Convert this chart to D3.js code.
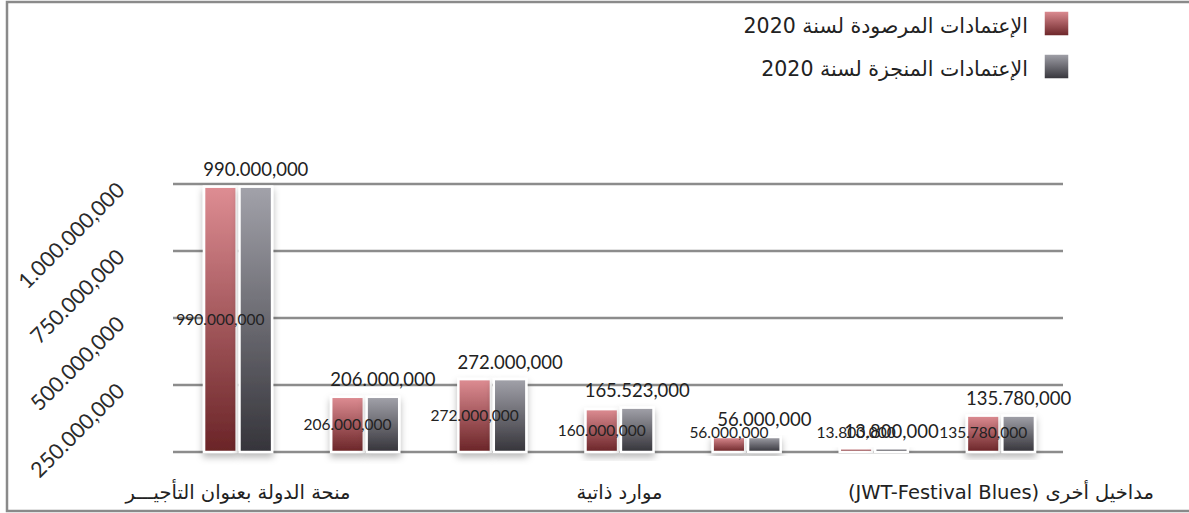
<!DOCTYPE html>
<html lang="ar">
<head>
<meta charset="utf-8">
<script src="https://cdn.jsdelivr.net/npm/d3@7"></script>
<style>
  html, body { margin: 0; padding: 0; background: #ffffff; }
  svg { display: block; }
</style>
</head>
<body>
<svg id="chart" width="1189" height="513"></svg>
<script>
// Category names (only every third one is shown on the axis)
const categoryLabels = [
  "منحة الدولة بعنوان التأجيـــر", "", "",
  "موارد ذاتية", "", "",
  "مداخيل أخرى (JWT-Festival Blues)"
];
// Planned credits for 2020
const plannedValues = [990000000, 206000000, 272000000, 160000000, 56000000, 13800000, 135780000];
// Achieved credits for 2020
const achievedValues = [990000000, 206000000, 272000000, 165523000, 56000000, 13800000, 135780000];
// Series names
const seriesNames = ["الإعتمادات المرصودة لسنة 2020", "الإعتمادات المنجزة لسنة 2020"];
// Value axis ticks
const yTicks = [250000000, 500000000, 750000000, 1000000000];

const W = 1189, H = 513;
const svg = d3.select("#chart");
const defs = svg.append("defs");

// gradients for the two series
function vGrad(id, top, bottom) {
  const g = defs.append("linearGradient").attr("id", id)
    .attr("x1", 0).attr("y1", 0).attr("x2", 0).attr("y2", 1);
  g.append("stop").attr("offset", "0%").attr("stop-color", top);
  g.append("stop").attr("offset", "100%").attr("stop-color", bottom);
}
vGrad("gRed", "#de8d93", "#6a2427");
vGrad("gGray", "#a2a2aa", "#35343a");
const fills = ["url(#gRed)", "url(#gGray)"];

const shadow = defs.append("filter").attr("id", "shadow")
  .attr("x", "-30%").attr("y", "-10%").attr("width", "160%").attr("height", "130%");
shadow.append("feDropShadow").attr("dx", 0).attr("dy", 4).attr("stdDeviation", 3.5)
  .attr("flood-color", "#000").attr("flood-opacity", 0.28);

// number format: 990.000,000
function fmt(v) {
  const s = d3.format(",")(Math.round(v)).replace(/,/g, ".");
  const i = s.lastIndexOf(".");
  return i < 0 ? s : s.slice(0, i) + "," + s.slice(i + 1);
}

// frame
svg.append("path")
  .attr("d", `M${W + 5},2 H7 V511 H${W + 5}`)
  .attr("fill", "none").attr("stroke", "#8a8a8a").attr("stroke-width", 2.5);

const plotLeft = 173, plotRight = 1063;
const y = d3.scaleLinear().domain([0, 1000000000]).range([452, 184]);
const x0 = d3.scaleBand().domain(d3.range(categoryLabels.length))
  .range([plotLeft + 1.5, plotRight + 1.5]).paddingInner(0.465).paddingOuter(0.2325);
const x1 = d3.scaleBand().domain([0, 1]).range([0, x0.bandwidth()]).paddingInner(0.08);

// gridlines
const grid = svg.append("g");
grid.selectAll("line").data([0].concat(yTicks)).join("line")
  .attr("x1", plotLeft).attr("x2", plotRight)
  .attr("y1", d => y(d)).attr("y2", d => y(d))
  .attr("stroke", "#8c8c8c").attr("stroke-width", 2.5);

// value axis labels, rotated
const yAxis = d3.axisLeft(y).tickValues(yTicks).tickFormat(fmt).tickSize(0).tickPadding(0);
const yg = svg.append("g").attr("transform", "translate(126,0)").call(yAxis);
yg.select(".domain").remove();
yg.selectAll(".tick text")
  .attr("x", 0).attr("dy", null).attr("y", 0)
  .attr("transform", "translate(0,7) rotate(-45)")
  .attr("text-anchor", "end")
  .attr("font-family", "Lato, 'Open Sans', sans-serif")
  .attr("font-size", 21.5).attr("fill", "#2a2a2a");

// bars
const rows = categoryLabels.map((c, i) => ({ i, vals: [plannedValues[i], achievedValues[i]] }));
const groups = svg.append("g").selectAll("g").data(rows).join("g")
  .attr("transform", d => `translate(${x0(d.i)},0)`);
groups.selectAll("rect").data(d => d.vals.map((v, k) => ({ v, k }))).join("rect")
  .attr("x", d => x1(d.k)).attr("width", x1.bandwidth())
  .attr("y", d => y(d.v)).attr("height", d => y(0) - y(d.v))
  .attr("fill", d => fills[d.k])
  .attr("stroke", "#ffffff").attr("stroke-width", 2.5)
  .attr("filter", "url(#shadow)");

// labels for planned values (inside the first bar)
groups.append("text")
  .attr("x", x1(0) + x1.bandwidth() / 2)
  .attr("y", d => Math.min((y(d.vals[0]) + y(0)) / 2, 432) + 5.5)
  .attr("text-anchor", "middle")
  .attr("font-family", "Lato, 'Open Sans', sans-serif")
  .attr("font-size", 15.5).attr("fill", "#222")
  .text(d => fmt(d.vals[0]));

// labels for achieved values (above the second bar)
groups.append("text")
  .attr("x", x1(1) + x1.bandwidth() / 2)
  .attr("y", d => y(d.vals[1]) - 10.5)
  .attr("text-anchor", "middle")
  .attr("font-family", "Lato, 'Open Sans', sans-serif")
  .attr("font-size", 18.5).attr("fill", "#222")
  .text(d => fmt(d.vals[1]));

// category axis
const xAxis = d3.axisBottom(x0).tickFormat(i => categoryLabels[i]).tickSize(0).tickPadding(0);
const xg = svg.append("g").attr("transform", "translate(0,499)").call(xAxis);
xg.select(".domain").remove();
xg.selectAll(".tick text")
  .attr("dy", null).attr("y", 0)
  .attr("direction", "rtl")
  .attr("text-anchor", "middle")
  .attr("font-family", "'DejaVu Sans', sans-serif")
  .attr("font-size", 19.5).attr("fill", "#222");

// legend
const legend = svg.append("g");
const lg = legend.selectAll("g").data(seriesNames).join("g")
  .attr("transform", (d, k) => `translate(0,${11 + k * 43})`);
lg.append("rect").attr("x", 1044).attr("y", 0).attr("width", 25).attr("height", 25)
  .attr("fill", (d, k) => fills[k]).attr("stroke", "#fff").attr("stroke-width", 1.5);
lg.append("text")
  .attr("x", 1028).attr("y", 22)
  .attr("text-anchor", "end")
  .attr("font-family", "'DejaVu Sans', sans-serif")
  .attr("font-size", 20.5).attr("fill", "#222")
  .text(d => d);
</script>
</body>
</html>
